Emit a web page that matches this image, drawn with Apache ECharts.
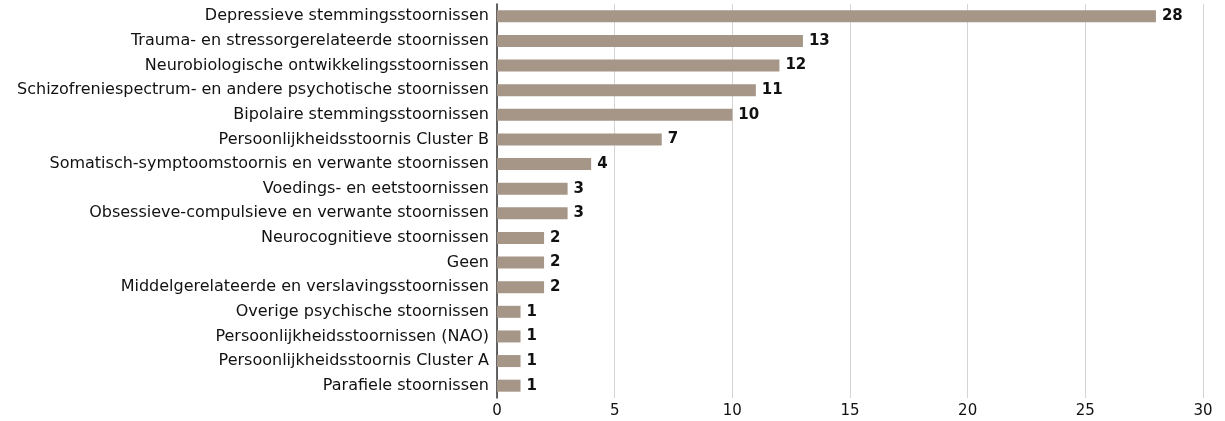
<!DOCTYPE html>
<html>
<head>
<meta charset="utf-8">
<script src="https://cdn.jsdelivr.net/npm/echarts@6/dist/echarts.min.js"></script>
<style>
  html, body { margin: 0; padding: 0; background: #fff; }
  #chart { width: 1225px; height: 421px; }
</style>
</head>
<body>
<div id="chart"></div>
<script>
// Diagnoses, listed top to bottom
const categories = [
  "Depressieve stemmingsstoornissen",
  "Trauma- en stressorgerelateerde stoornissen",
  "Neurobiologische ontwikkelingsstoornissen",
  "Schizofreniespectrum- en andere psychotische stoornissen",
  "Bipolaire stemmingsstoornissen",
  "Persoonlijkheidsstoornis Cluster B",
  "Somatisch-symptoomstoornis en verwante stoornissen",
  "Voedings- en eetstoornissen",
  "Obsessieve-compulsieve en verwante stoornissen",
  "Neurocognitieve stoornissen",
  "Geen",
  "Middelgerelateerde en verslavingsstoornissen",
  "Overige psychische stoornissen",
  "Persoonlijkheidsstoornissen (NAO)",
  "Persoonlijkheidsstoornis Cluster A",
  "Parafiele stoornissen"
];
const counts = [28, 13, 12, 11, 10, 7, 4, 3, 3, 2, 2, 2, 1, 1, 1, 1];
const xTicks = { min: 0, max: 30, step: 5 };

const FONT = "'DejaVu Sans', sans-serif";
const chart = echarts.init(document.getElementById('chart'));
chart.setOption({
  animation: false,
  grid: { left: 497, right: 22, top: 4, bottom: 23, containLabel: false },
  xAxis: {
    type: 'value',
    min: xTicks.min, max: xTicks.max, interval: xTicks.step,
    axisLine: { show: false },
    axisTick: { show: false },
    splitLine: { show: true, lineStyle: { color: '#d4d4d4', width: 1 } },
    axisLabel: { color: '#111', fontSize: 15, fontFamily: FONT, margin: 6 }
  },
  yAxis: {
    type: 'category',
    inverse: true,
    data: categories,
    axisLine: { show: true, lineStyle: { color: '#333', width: 1.5 } },
    axisTick: { show: false },
    axisLabel: { color: '#111', fontSize: 16, fontFamily: FONT, margin: 8 }
  },
  series: [{
    type: 'bar',
    data: counts,
    barWidth: 12,
    itemStyle: { color: '#a69688' },
    label: {
      show: true,
      position: 'right',
      distance: 6,
      color: '#111',
      fontSize: 15,
      fontWeight: 'bold',
      fontFamily: FONT
    }
  }]
});
</script>
</body>
</html>
